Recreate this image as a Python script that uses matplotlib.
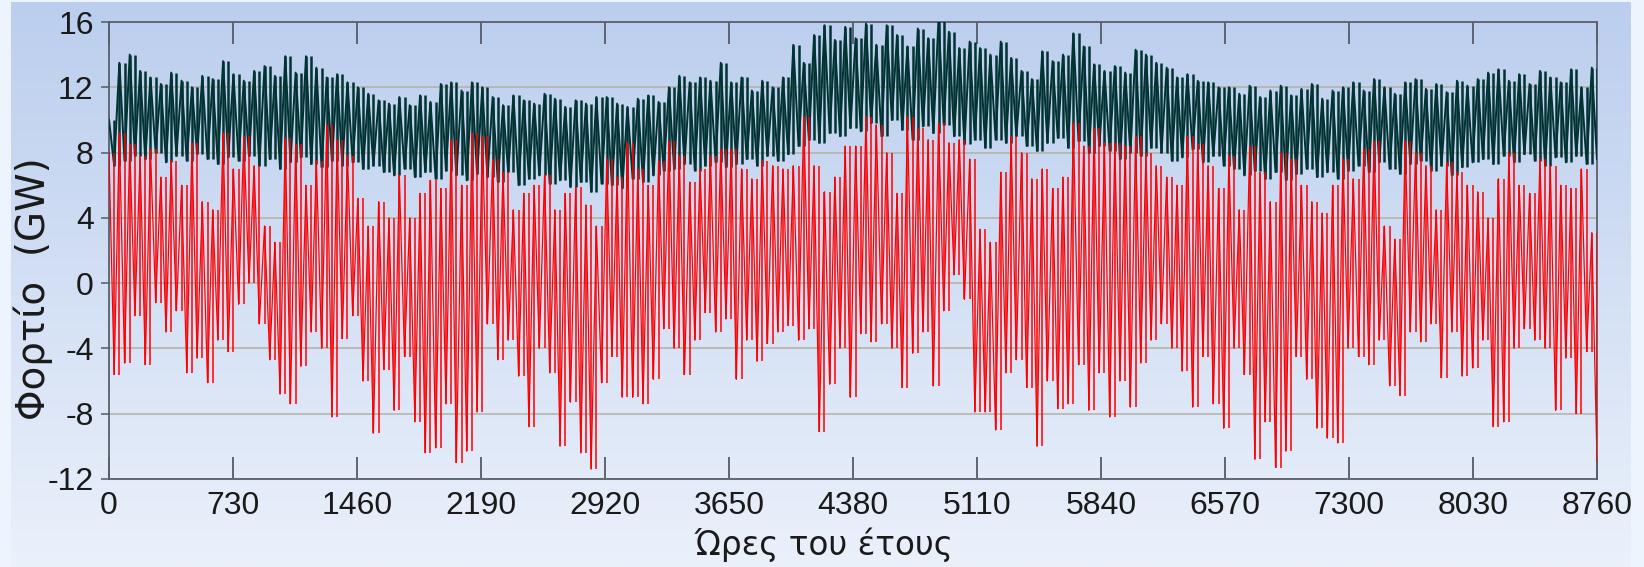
import numpy as np
import matplotlib.pyplot as plt
from matplotlib.colors import LinearSegmentedColormap

plt.rcParams['axes.unicode_minus'] = False
plt.rcParams['font.family'] = ['Liberation Sans', 'DejaVu Sans']

# Peaks and troughs per ~61 h block (144 blocks over 8760 h)
load_hi = [10.0, 13.5, 14.0, 13.0, 12.6, 12.2, 12.9, 12.4, 12.0, 12.7, 12.5, 13.6,
           12.8, 12.4, 13.0, 13.3, 12.7, 13.9, 12.9, 13.9, 13.2, 12.6, 12.8, 12.3,
           12.0, 11.6, 11.2, 11.0, 11.4, 10.9, 11.5, 11.1, 12.2, 12.3, 11.8, 12.3,
           12.0, 11.4, 10.9, 11.5, 11.2, 11.0, 11.6, 11.3, 10.8, 11.2, 11.0, 11.4,
           11.4, 11.0, 10.8, 11.3, 11.5, 11.1, 12.0, 12.7, 12.3, 12.6, 12.4, 13.5,
           12.3, 12.6, 11.8, 12.4, 12.0, 12.6, 14.6, 13.5, 15.2, 15.8, 14.9, 15.7,
           15.0, 15.9, 14.6, 15.8, 15.2, 14.5, 15.6, 15.0, 16.2, 15.4, 14.4, 14.8,
           14.4, 14.0, 14.8, 13.8, 13.0, 12.5, 14.2, 13.6, 14.0, 15.3, 14.5, 13.4,
           13.0, 13.3, 12.9, 14.3, 14.0, 13.5, 13.2, 12.6, 12.8, 12.4, 12.3, 12.0,
           12.0, 11.6, 12.1, 11.4, 11.8, 12.1, 11.5, 11.9, 12.2, 11.3, 11.8, 12.0,
           12.3, 11.8, 12.5, 12.0, 11.6, 12.3, 12.5, 11.9, 12.2, 11.7, 12.4, 12.1,
           12.5, 12.9, 13.1, 12.4, 12.8, 12.2, 13.0, 12.6, 12.3, 13.1, 12.0, 13.2]
load_lo = [7.2, 7.5, 7.8, 7.6, 8.0, 7.4, 7.8, 7.5, 7.9, 7.6, 7.3, 7.7,
           7.5, 7.8, 7.2, 7.6, 7.0, 7.4, 7.7, 7.3, 7.1, 7.5, 7.2, 7.4,
           7.0, 7.2, 6.8, 6.6, 7.0, 6.5, 6.8, 6.4, 6.9, 6.6, 6.3, 6.7,
           6.5, 6.2, 6.8, 6.0, 6.4, 6.6, 6.1, 6.3, 5.9, 6.2, 5.6, 6.1,
           6.0, 5.8, 6.4, 6.2, 6.6, 6.9, 7.0, 7.3, 6.9, 7.2, 7.4, 7.1,
           7.3, 7.6, 7.2, 7.8, 7.5, 7.9, 8.4, 8.8, 8.6, 9.2, 9.0, 9.5,
           9.3, 9.8, 9.0, 10.0, 9.4, 8.8, 9.6, 9.2, 9.7, 9.0, 8.5, 8.8,
           8.3, 8.8, 8.6, 9.0, 8.4, 8.1, 8.6, 8.9, 8.3, 8.7, 8.0, 8.4,
           8.1, 7.6, 8.0, 7.8, 8.3, 8.0, 7.5, 7.7, 8.2, 7.4, 7.8, 7.2,
           7.0, 6.6, 6.9, 6.4, 6.8, 6.3, 6.7, 7.0, 6.5, 6.8, 6.4, 6.9,
           7.2, 6.8, 7.4, 7.0, 6.7, 7.3, 7.5, 6.9, 7.2, 6.6, 7.1, 7.4,
           7.6, 7.3, 7.8, 7.4, 7.9, 7.5, 7.2, 7.7, 7.4, 7.8, 7.3, 7.6]
net_hi = [8.0, 9.2, 8.5, 7.8, 8.2, 6.5, 7.5, 6.0, 8.6, 5.0, 4.5, 9.2,
          7.0, 9.0, 7.2, 3.5, 2.5, 8.9, 8.5, 6.0, 7.5, 9.7, 8.8, 7.8,
          5.2, 3.5, 5.0, 4.0, 6.6, 4.0, 5.5, 6.3, 5.8, 8.8, 6.0, 9.2,
          9.0, 7.6, 6.8, 4.5, 5.5, 6.0, 6.6, 4.5, 5.5, 5.9, 4.8, 3.5,
          7.6, 6.5, 8.6, 7.0, 6.0, 7.5, 8.7, 7.8, 6.2, 7.0, 7.8, 8.2,
          8.2, 7.0, 6.4, 7.5, 7.2, 7.0, 7.2, 10.2, 7.2, 5.6, 6.5, 8.4,
          8.4, 10.2, 9.7, 8.0, 5.5, 10.2, 9.5, 8.8, 9.8, 8.6, 8.8, 7.6,
          3.3, 2.5, 6.8, 9.0, 8.0, 6.4, 7.0, 5.8, 6.5, 9.8, 8.4, 9.5,
          8.6, 8.6, 8.4, 9.0, 8.0, 7.2, 6.5, 6.0, 9.0, 8.5, 7.2, 5.8,
          7.8, 4.5, 8.4, 6.8, 5.0, 8.0, 7.6, 6.0, 5.0, 4.3, 6.0, 7.6,
          6.4, 8.2, 8.7, 3.5, 2.7, 8.7, 8.0, 7.2, 4.5, 7.4, 6.8, 6.0,
          5.6, 4.0, 6.4, 8.0, 6.0, 5.5, 7.6, 7.2, 6.0, 5.8, 7.0, 3.1]
net_lo = [-5.6, -4.9, -2.0, -5.0, -1.2, -3.0, -1.7, -5.5, -4.6, -6.1, -3.5, -4.2,
          -1.3, 0.0, -2.5, -4.7, -6.8, -7.4, -5.1, -3.0, -4.0, -8.2, -3.4, -2.0,
          -6.0, -9.2, -5.3, -7.8, -4.5, -8.5, -10.4, -10.1, -7.4, -11.0, -10.3, -7.9,
          -2.5, -4.7, -3.5, -5.7, -8.8, -4.0, -5.5, -10.0, -7.3, -10.4, -11.4, -6.1,
          -4.5, -7.0, -7.0, -7.4, -5.9, -2.8, -4.0, -5.6, -3.5, -1.8, -3.0, -2.2,
          -5.9, -3.5, -4.8, -3.7, -3.0, -2.6, -3.5, -2.8, -9.1, -6.2, -4.0, -7.0,
          -3.1, -3.6, -2.5, -4.0, -6.4, -4.3, -3.0, -6.3, -1.7, 0.5, -1.0, -7.9,
          -7.9, -9.0, -5.5, -4.7, -6.4, -10.0, -6.0, -7.7, -7.4, -5.0, -7.8, -5.5,
          -8.2, -6.0, -7.6, -4.9, -3.5, -2.5, -4.0, -5.4, -7.6, -4.5, -7.4, -8.9,
          -4.0, -5.6, -10.8, -8.5, -11.3, -10.3, -4.5, -5.9, -8.9, -9.5, -9.8, -4.0,
          -4.5, -5.0, -3.5, -6.3, -6.9, -3.0, -3.6, -2.5, -5.8, -3.0, -5.7, -5.2,
          -3.5, -8.8, -8.5, -4.0, -2.8, -3.5, -4.0, -7.8, -4.6, -8.0, -4.2, -10.9]

xticks = [0, 730, 1460, 2190, 2920, 3650, 4380, 5110, 5840, 6570, 7300, 8030, 8760]
yticks = [-12, -8, -4, 0, 4, 8, 12, 16]

fig = plt.figure(figsize=(16.44, 5.67), dpi=100, facecolor='#EEF4FD')

# blue gradient panel behind the plot
bg = fig.add_axes([0.0067, 0.0, 0.9848, 0.9965], zorder=0)
grad = np.linspace(0, 1, 256).reshape(-1, 1)
cmap = LinearSegmentedColormap.from_list('panel', ['#BBCEEE', '#EBF1FB'])
bg.imshow(grad, aspect='auto', cmap=cmap, extent=[0, 1, 0, 1])
bg.set_axis_off()

ax = fig.add_axes([109/1644, 1-479/567, 1488/1644, 457/567], zorder=1)
ax.patch.set_alpha(0)


def draw_swings(hi, lo, color, lw, z):
    # peak, trough, peak, ... drawn as vertical swings between neighbours
    vals = np.column_stack([hi, lo]).ravel()
    x = np.linspace(0, 8760, len(vals))
    ax.vlines(x[1:], np.minimum(vals[:-1], vals[1:]), np.maximum(vals[:-1], vals[1:]),
              color=color, lw=lw, zorder=z)
    ax.plot(x, vals, color=color, lw=lw * 0.8, zorder=z)


draw_swings(load_hi, load_lo, '#023333', 1.8, 3)
draw_swings(net_hi, net_lo, '#FF0000', 1.1, 4)

ax.set_xlim(0, 8760)
ax.set_ylim(-12, 16)
ax.set_xticks(xticks)
ax.set_yticks(yticks)
ax.grid(axis='y', color='#B3B1A4', lw=1.1, zorder=1)
ax.set_axisbelow(True)

ax.tick_params(axis='x', direction='in', length=16, width=1.3, top=True,
               color='#555A66', pad=9, labelsize=23, labelcolor='#1A1A1A')
ax.tick_params(axis='y', direction='out', length=6, width=1.1,
               color='#555A66', pad=5, labelsize=23, labelcolor='#1A1A1A')
for s in ax.spines.values():
    s.set_color('#5A5F6A')
    s.set_linewidth(1.3)

fig.text(33/1644, 1-289/567, 'Φορτίο  (GW)', rotation=90, ha='center', va='center',
         fontsize=28, family='DejaVu Sans', color='#1A1A1A')
fig.text(824/1644, 1-545/567, 'Ώρες του έτους', ha='center', va='center',
         fontsize=23.5, family='DejaVu Sans', color='#1A1A1A')

fig.savefig('out.png', dpi=100, facecolor=fig.get_facecolor())
